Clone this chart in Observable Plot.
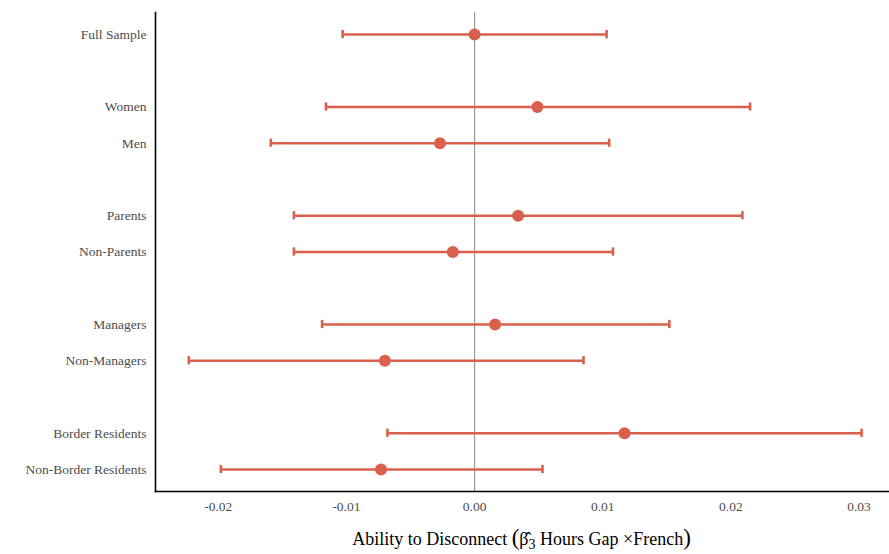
<!DOCTYPE html>
<html><head><meta charset="utf-8">
<script src="https://cdn.jsdelivr.net/npm/d3@7"></script>
<script src="https://cdn.jsdelivr.net/npm/@observablehq/plot@0.6"></script>
<style>
body{margin:0;background:#fff;}
</style>
</head><body><div id="chart"></div>
<script>
// Row order (blank strings are spacer rows between groups)
const rows = ["Full Sample", " ", "Women", "Men", "  ", "Parents", "Non-Parents", "   ", "Managers", "Non-Managers", "    ", "Border Residents", "Non-Border Residents"];
const groups = ["Full Sample", "Women", "Men", "Parents", "Non-Parents", "Managers", "Non-Managers", "Border Residents", "Non-Border Residents"];
const estimates = [0.0000, 0.0049, -0.0027, 0.0034, -0.0017, 0.0016, -0.0070, 0.0117, -0.0073];
const lower = [-0.0103, -0.0116, -0.0159, -0.0141, -0.0141, -0.0119, -0.0223, -0.0068, -0.0198];
const upper = [0.0103, 0.0215, 0.0105, 0.0209, 0.0108, 0.0152, 0.0085, 0.0302, 0.0053];
const xTicks = [-0.02, -0.01, 0, 0.01, 0.02, 0.03];
const xDomain = [-0.0249, 0.0323];

const data = groups.map((g, i) => ({group: g, est: estimates[i], lo: lower[i], hi: upper[i]}));
const col = "#d9604c";
const serif = "Liberation Serif";

const chart = Plot.plot({
  width: 889, height: 554,
  marginLeft: 155, marginRight: 1, marginTop: 12, marginBottom: 63,
  style: {background: "#fff", overflow: "visible"},
  x: {domain: xDomain, label: null},
  y: {type: "band", domain: rows, round: false, paddingInner: 0, paddingOuter: 0.107, label: null},
  marks: [
    Plot.axisX({ticks: xTicks, tickFormat: d => d.toFixed(2), tickSize: 0, tickPadding: 10, fontSize: 13.5, fill: "#4d4d4d", label: null}),
    Plot.axisY({ticks: groups, tickSize: 0, tickPadding: 9, fontSize: 13.5, fill: "#4d4d4d", label: null}),
    Plot.ruleX([0], {stroke: "#9a9a9a", strokeWidth: 1.2}),
    Plot.ruleY(data, {y: "group", x1: "lo", x2: "hi", stroke: col, strokeWidth: 2.6}),
    Plot.tickX(data, {x: "lo", y: "group", stroke: col, strokeWidth: 2.6, insetTop: 14, insetBottom: 14}),
    Plot.tickX(data, {x: "hi", y: "group", stroke: col, strokeWidth: 2.6, insetTop: 14, insetBottom: 14}),
    Plot.dot(data, {x: "est", y: "group", r: 6, fill: col, stroke: "none"}),
    Plot.frame({anchor: "left", stroke: "#000", strokeWidth: 1.6}),
    Plot.frame({anchor: "bottom", stroke: "#000", strokeWidth: 1.6})
  ]
});
document.getElementById("chart").appendChild(chart);

const svg = d3.select(chart);
svg.attr("font-family", serif).attr("font-size", 13.5);
// Force serif tick labels on every text element
svg.selectAll("text").attr("font-family", serif).style("font-family", serif).style("font-size", "13.5px");

// Axis title with hat-beta and subscript
const t = svg.append("text")
  .attr("x", (155 + 888) / 2).attr("y", 545)
  .attr("text-anchor", "middle")
  .attr("fill", "#000")
  .attr("font-family", serif)
  .style("font-family", serif)
  .style("font-size", "18px");
t.append("tspan").text("Ability to Disconnect ");
t.append("tspan").style("font-size", "23px").text("(");
t.append("tspan").text("\u03B2\u0302");
t.append("tspan").attr("dy", 4).style("font-size", "14px").text("3");
t.append("tspan").attr("dy", -4).text(" Hours Gap \u00D7French");
t.append("tspan").style("font-size", "23px").text(")");
</script>
</body></html>
